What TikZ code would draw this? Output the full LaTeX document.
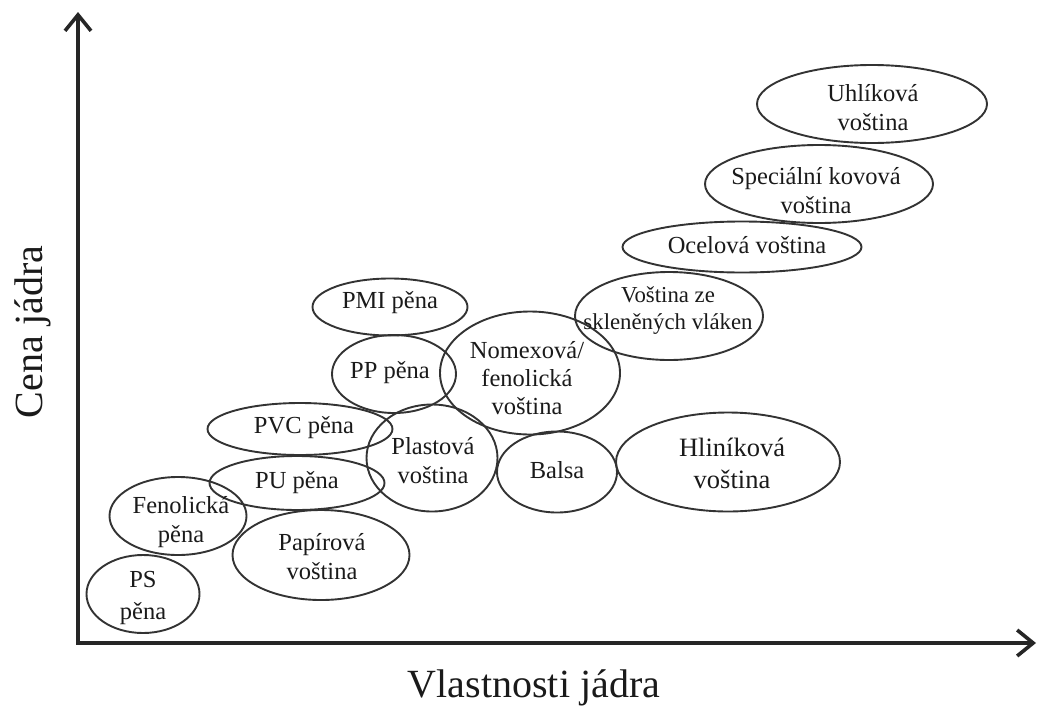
\documentclass[tikz,border=0pt]{standalone}
\usepackage{fontspec}
\setmainfont{Liberation Serif}
\usetikzlibrary{shapes.geometric,arrows.meta}
\definecolor{ovalc}{HTML}{333333}
\definecolor{txtc}{HTML}{1A1A1A}
\tikzset{
  oval/.style={ellipse, draw=ovalc, line width=1.9pt, inner sep=0pt, outer sep=0pt},
  lbl/.style={align=center, text=txtc, inner sep=0pt, font=\fontsize{24.5}{29}\selectfont},
  lblbig/.style={lbl, font=\fontsize{26.5}{32}\selectfont},
  lblsmall/.style={lbl, font=\fontsize{22.8}{27}\selectfont},
  axislbl/.style={text=txtc, inner sep=0pt, font=\fontsize{40}{46}\selectfont},
  axisline/.style={line width=3.6pt, black!85, line join=miter,
     arrows={Straight Barb[length=16pt,width=26pt,line width=3.6pt]-Straight Barb[length=16pt,width=26pt,line width=3.6pt]}}
}
\begin{document}
\begin{tikzpicture}[x=1pt,y=-1pt]
\useasboundingbox (0,0) rectangle (1038,712);

% axes
\coordinate (ytop) at (78,12);
\coordinate (O) at (78,643);
\coordinate (xend) at (1036,643);
\draw[axisline] (ytop) -- (O) -- (xend);

\node[axislbl] (xl) at (534,688) {Vlastnosti jádra};
\node[axislbl, rotate=90] (yl) at (33,332) {Cena jádra};

% ellipses
\node[oval, minimum width=113pt, minimum height=78pt] (ps) at (143,594) {};
\node[oval, minimum width=137pt, minimum height=78pt] (fen) at (178,516) {};
\node[oval, minimum width=177pt, minimum height=90pt] (pap) at (321,555) {};
\node[oval, minimum width=175pt, minimum height=54pt] (pu) at (297,483) {};
\node[oval, minimum width=185pt, minimum height=52pt] (pvc) at (300,429) {};
\node[oval, minimum width=131pt, minimum height=107pt] (pla) at (432,458) {};
\node[oval, minimum width=124pt, minimum height=78pt] (pp) at (394,374) {};
\node[oval, minimum width=155pt, minimum height=57pt] (pmi) at (390,307) {};
\node[oval, minimum width=180pt, minimum height=123pt] (nom) at (530,373) {};
\node[oval, minimum width=120pt, minimum height=81pt] (bal) at (557,472) {};
\node[oval, minimum width=224pt, minimum height=99pt] (hli) at (728,462) {};
\node[oval, minimum width=188pt, minimum height=88pt] (skl) at (669,316) {};
\node[oval, minimum width=239pt, minimum height=51pt] (oce) at (742,247) {};
\node[oval, minimum width=228pt, minimum height=78pt] (spe) at (819,184) {};
\node[oval, minimum width=230pt, minimum height=78pt] (uhl) at (872,104) {};

% labels
\node[lbl] (tps) at (143,598) {PS\\[3pt]pěna};
\node[lbl] (tfen) at (181,522) {Fenolická\\pěna};
\node[lbl] (tpap) at (322,557) {Papírová\\voština};
\node[lbl] (tpu) at (297,483) {PU pěna};
\node[lbl] (tpvc) at (304,428) {PVC pěna};
\node[lbl] (tpla) at (433,461) {Plastová\\voština};
\node[lbl] (tpp) at (390,373) {PP pěna};
\node[lbl] (tpmi) at (390,303) {PMI pěna};
\node[lbl] (tnom) at (527,378) {Nomexová/\\[-1pt]fenolická\\[-1pt]voština};
\node[lbl] (tbal) at (557,470) {Balsa};
\node[lblbig] (thli) at (732,463) {Hliníková\\voština};
\node[lblsmall] (tskl) at (668,311) {Voština ze\\skleněných vláken};
\node[lbl] (toce) at (747,245) {Ocelová voština};
\node[lbl] (tspe) at (816,191) {Speciální kovová\\voština};
\node[lbl] (tuhl) at (873,108) {Uhlíková\\voština};
\end{tikzpicture}
\end{document}
